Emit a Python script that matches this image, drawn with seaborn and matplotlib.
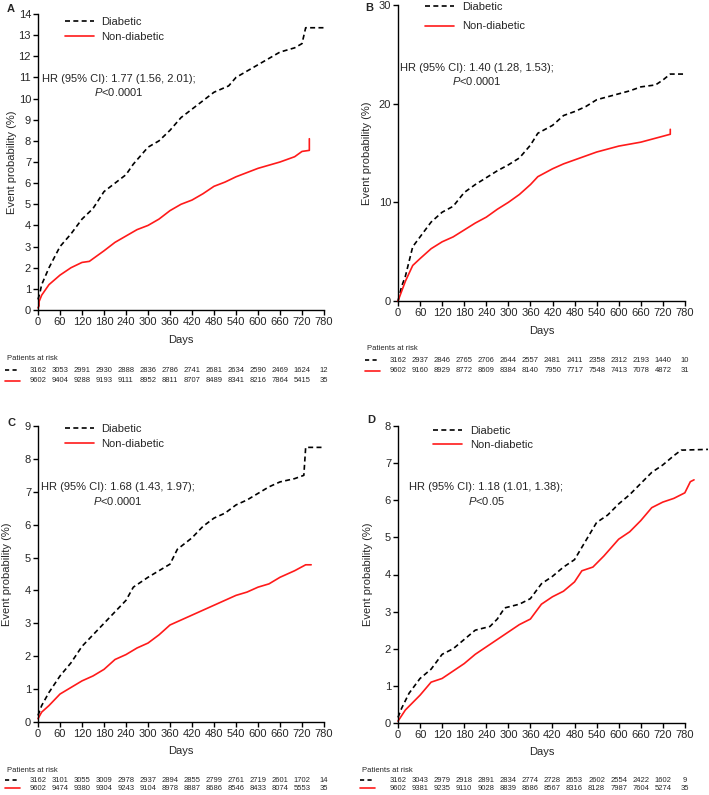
import pandas as pd
import matplotlib
matplotlib.use('Agg')
import matplotlib.pyplot as plt
from matplotlib.lines import Line2D
from matplotlib.transforms import blended_transform_factory
import seaborn as sns

sns.set_style('ticks')
plt.rcParams['font.family'] = ['Liberation Sans', 'DejaVu Sans']
plt.rcParams['mathtext.fontset'] = 'custom'
plt.rcParams['mathtext.it'] = 'Liberation Sans:italic'
plt.rcParams['mathtext.rm'] = 'Liberation Sans'

RED = '#ff1a1a'

# ---- panel A ----
a_dm_days = [0, 5, 10, 30, 60, 90, 120, 150, 180, 210, 240, 260, 300, 330, 360, 390, 420, 450, 480,
             520, 540, 570, 600, 630, 660, 700, 720, 730, 780]
a_dm_prob = [0.5, 0.8, 1.2, 2.0, 3.0, 3.6, 4.3, 4.8, 5.6, 6.0, 6.4, 6.9, 7.7, 8.0, 8.5, 9.1, 9.5, 9.9, 10.3,
             10.6, 11.0, 11.3, 11.6, 11.9, 12.2, 12.4, 12.6, 13.35, 13.35]
a_non_days = [0, 3, 3, 10, 30, 60, 90, 120, 140, 180, 210, 240, 270, 300, 330, 360, 390, 420, 450, 480,
              510, 540, 570, 600, 630, 660, 700, 720, 740, 740]
a_non_prob = [0.1, 0.2, 0.4, 0.7, 1.2, 1.65, 2.0, 2.25, 2.3, 2.8, 3.2, 3.5, 3.8, 4.0, 4.3, 4.7, 5.0, 5.2, 5.5,
              5.85, 6.05, 6.3, 6.5, 6.7, 6.85, 7.0, 7.25, 7.5, 7.55, 8.1]
a_risk_dm = [3162, 3053, 2991, 2930, 2888, 2836, 2786, 2741, 2681, 2634, 2590, 2469, 1624, 12]
a_risk_non = [9602, 9404, 9288, 9193, 9111, 8952, 8811, 8707, 8489, 8341, 8216, 7864, 5415, 35]
a_hr = 'HR (95% CI): 1.77 (1.56, 2.01);\n$\\it{P}$<0.0001'

# ---- panel B ----
b_dm_days = [0, 10, 20, 40, 60, 90, 120, 150, 180, 210, 240, 270, 300, 330, 360, 380, 420, 450, 480,
             510, 540, 570, 600, 630, 660, 700, 720, 740, 780]
b_dm_prob = [0, 1.5, 2.5, 5.5, 6.5, 8.0, 9.0, 9.6, 11.0, 11.8, 12.5, 13.2, 13.8, 14.5, 15.8, 17.0, 17.8,
             18.8, 19.2, 19.7, 20.4, 20.7, 21.0, 21.3, 21.7, 21.9, 22.4, 23.0, 23.0]
b_non_days = [0, 20, 40, 60, 90, 120, 150, 180, 210, 240, 270, 300, 330, 360, 380, 420, 450, 480, 510,
              540, 570, 600, 630, 660, 700, 740, 740]
b_non_prob = [0, 2.0, 3.6, 4.3, 5.3, 6.0, 6.5, 7.2, 7.9, 8.5, 9.3, 10.0, 10.8, 11.8, 12.6, 13.4, 13.9,
              14.3, 14.7, 15.1, 15.4, 15.7, 15.9, 16.1, 16.5, 16.9, 17.4]
b_risk_dm = [3162, 2937, 2846, 2765, 2706, 2644, 2557, 2481, 2411, 2358, 2312, 2193, 1440, 10]
b_risk_non = [9602, 9160, 8929, 8772, 8609, 8384, 8140, 7950, 7717, 7548, 7413, 7078, 4872, 31]
b_hr = 'HR (95% CI): 1.40 (1.28, 1.53);\n$\\it{P}$<0.0001'

# ---- panel C ----
c_dm_days = [0, 10, 30, 45, 60, 90, 120, 150, 180, 210, 240, 260, 300, 330, 360, 380, 420, 450, 480,
             510, 540, 570, 600, 630, 660, 700, 725, 730, 780]
c_dm_prob = [0.2, 0.5, 0.9, 1.15, 1.4, 1.8, 2.3, 2.65, 3.0, 3.35, 3.7, 4.1, 4.4, 4.6, 4.8, 5.25, 5.6,
             5.95, 6.2, 6.35, 6.6, 6.75, 6.95, 7.15, 7.3, 7.4, 7.5, 8.35, 8.35]
c_non_days = [0, 10, 30, 60, 90, 120, 150, 180, 210, 240, 270, 300, 330, 360, 390, 420, 450, 480, 510,
              540, 570, 600, 630, 660, 700, 730, 745]
c_non_prob = [0.1, 0.3, 0.5, 0.85, 1.05, 1.25, 1.4, 1.6, 1.9, 2.05, 2.25, 2.4, 2.65, 2.95, 3.1, 3.25,
              3.4, 3.55, 3.7, 3.85, 3.95, 4.1, 4.2, 4.4, 4.6, 4.78, 4.78]
c_risk_dm = [3162, 3101, 3055, 3009, 2978, 2937, 2894, 2855, 2799, 2761, 2719, 2601, 1702, 14]
c_risk_non = [9602, 9474, 9380, 9304, 9243, 9104, 8978, 8887, 8686, 8546, 8433, 8074, 5553, 35]
c_hr = 'HR (95% CI): 1.68 (1.43, 1.97);\n$\\it{P}$<0.0001'

# ---- panel D ----
d_dm_days = [0, 10, 30, 60, 90, 120, 150, 180, 210, 250, 270, 290, 330, 360, 390, 420, 450, 480, 510,
             540, 570, 600, 630, 660, 690, 720, 750, 770, 843]
d_dm_prob = [0.15, 0.4, 0.8, 1.2, 1.45, 1.85, 2.0, 2.25, 2.5, 2.6, 2.8, 3.1, 3.2, 3.35, 3.75, 3.95, 4.2,
             4.4, 4.9, 5.4, 5.6, 5.9, 6.15, 6.45, 6.75, 6.95, 7.2, 7.35, 7.37]
d_non_days = [0, 20, 40, 60, 90, 120, 150, 180, 210, 240, 270, 300, 330, 360, 390, 420, 450, 480, 500,
              530, 560, 600, 630, 660, 690, 720, 750, 780, 795, 805]
d_non_prob = [0.05, 0.35, 0.55, 0.75, 1.1, 1.2, 1.4, 1.6, 1.85, 2.05, 2.25, 2.45, 2.65, 2.8, 3.2, 3.4,
              3.55, 3.8, 4.1, 4.2, 4.5, 4.95, 5.15, 5.45, 5.8, 5.95, 6.05, 6.2, 6.5, 6.55]
d_risk_dm = [3162, 3043, 2979, 2918, 2891, 2834, 2774, 2728, 2653, 2602, 2554, 2422, 1602, 9]
d_risk_non = [9602, 9381, 9235, 9110, 9028, 8839, 8686, 8567, 8316, 8128, 7987, 7604, 5274, 35]
d_hr = 'HR (95% CI): 1.18 (1.01, 1.38);\n$\\it{P}$<0.05'

risk_days = [0, 60, 120, 180, 240, 300, 360, 420, 480, 540, 600, 660, 720, 780]

W, H = 709, 795
fig = plt.figure(figsize=(W / 100, H / 100), dpi=100)


def px_axes(left, top, right, bottom):
    return fig.add_axes([left / W, 1 - bottom / H, (right - left) / W, (bottom - top) / H])


def panel(ax, letter, dm_d, dm_p, non_d, non_p, ymax, ystep, xmax, hr, hr_xy,
          leg_xy, leg_space, risk_dm, risk_non, risk_y, risk_x, ylab_x, days_y, letter_xy):
    df_dm = pd.DataFrame({'days': dm_d, 'prob': dm_p})
    df_non = pd.DataFrame({'days': non_d, 'prob': non_p})
    sns.lineplot(data=df_dm, x='days', y='prob', ax=ax, color='black', lw=1.2,
                 estimator=None, sort=False, dashes=False, linestyle=(0, (3, 2)), clip_on=False)
    sns.lineplot(data=df_non, x='days', y='prob', ax=ax, color=RED, lw=1.2,
                 estimator=None, sort=False, clip_on=False)
    ax.set_xlim(0, xmax)
    ax.set_ylim(0, ymax)
    ax.set_xticks(range(0, 781, 60))
    ax.set_yticks(range(0, ymax + 1, ystep))
    ax.spines['bottom'].set_bounds(0, 780)
    sns.despine(ax=ax)
    for s in ['left', 'bottom']:
        ax.spines[s].set_linewidth(1.0)
        ax.spines[s].set_color('black')
    ax.tick_params(labelsize=8, length=3.5, width=1.0, color='black', pad=1.5)
    ax.set_xlabel('Days', fontsize=8)
    ax.set_ylabel('Event probability (%)', fontsize=8)
    ax.xaxis.set_label_coords(0.5 * 780 / xmax, days_y)
    ax.xaxis.label.set_verticalalignment('center')
    ax.yaxis.set_label_coords(ylab_x, 0.5)
    ax.yaxis.label.set_verticalalignment('center')

    ax.text(hr_xy[0], hr_xy[1], hr, ha='center', va='center', fontsize=8, linespacing=1.25)

    handles = [Line2D([], [], color='black', lw=1.2, linestyle=(0, (3, 2))),
               Line2D([], [], color=RED, lw=1.2)]
    ax.legend(handles, ['Diabetic', 'Non-diabetic'], loc='upper left', bbox_to_anchor=leg_xy,
              frameon=False, fontsize=8, handlelength=2.6, handletextpad=0.7,
              borderpad=0, borderaxespad=0, labelspacing=leg_space)

    fig.text(letter_xy[0] / W, 1 - letter_xy[1] / H, letter, fontsize=8, fontweight='bold',
             ha='left', va='center')

    # risk table
    tr = blended_transform_factory(ax.transData, fig.transFigure)
    hy, r1, r2 = risk_y
    fig.text(risk_x / W, 1 - hy / H, 'Patients at risk', fontsize=5.5, va='center')
    for x, v in zip(risk_days, risk_dm):
        ax.text(x, 1 - r1 / H, str(v), transform=tr, fontsize=5.5, ha='center', va='center')
    for x, v in zip(risk_days, risk_non):
        ax.text(x, 1 - r2 / H, str(v), transform=tr, fontsize=5.5, ha='center', va='center')
    fig.add_artist(Line2D([(risk_x - 2) / W, (risk_x + 13) / W], [1 - r1 / H, 1 - r1 / H],
                          color='black', lw=1.2, linestyle=(0, (2.5, 2))))
    fig.add_artist(Line2D([(risk_x - 2) / W, (risk_x + 13) / W], [1 - r2 / H, 1 - r2 / H],
                          color=RED, lw=1.2))


axA = px_axes(38, 14, 324, 310)
panel(axA, 'A', a_dm_days, a_dm_prob, a_non_days, a_non_prob, 14, 1, 780, a_hr, (220, 10.6),
      (0.094, 0.99), 0.45, a_risk_dm, a_risk_non, (359, 370, 381), 7, -0.091, -0.101, (7, 9))

axB = px_axes(398, 5, 685, 301)
panel(axB, 'B', b_dm_days, b_dm_prob, b_non_days, b_non_prob, 30, 10, 780, b_hr, (214, 22.9),
      (0.094, 1.01), 0.85, b_risk_dm, b_risk_non, (348, 360, 371), 367, -0.108, -0.101, (365, 8))

axC = px_axes(38, 426, 324, 722)
panel(axC, 'C', c_dm_days, c_dm_prob, c_non_days, c_non_prob, 9, 1, 780, c_hr, (217, 6.92),
      (0.094, 1.007), 0.45, c_risk_dm, c_risk_non, (771, 780, 788), 7, -0.108, -0.098, (7, 423))

axD = px_axes(398, 426, 708, 723)
panel(axD, 'D', d_dm_days, d_dm_prob, d_non_days, d_non_prob, 8, 1, 843, d_hr, (240, 6.15),
      (0.113, 1.0), 0.35, d_risk_dm, d_risk_non, (771, 780, 788), 362, -0.097, -0.098, (367, 420))

fig.savefig('out.png', dpi=100)
